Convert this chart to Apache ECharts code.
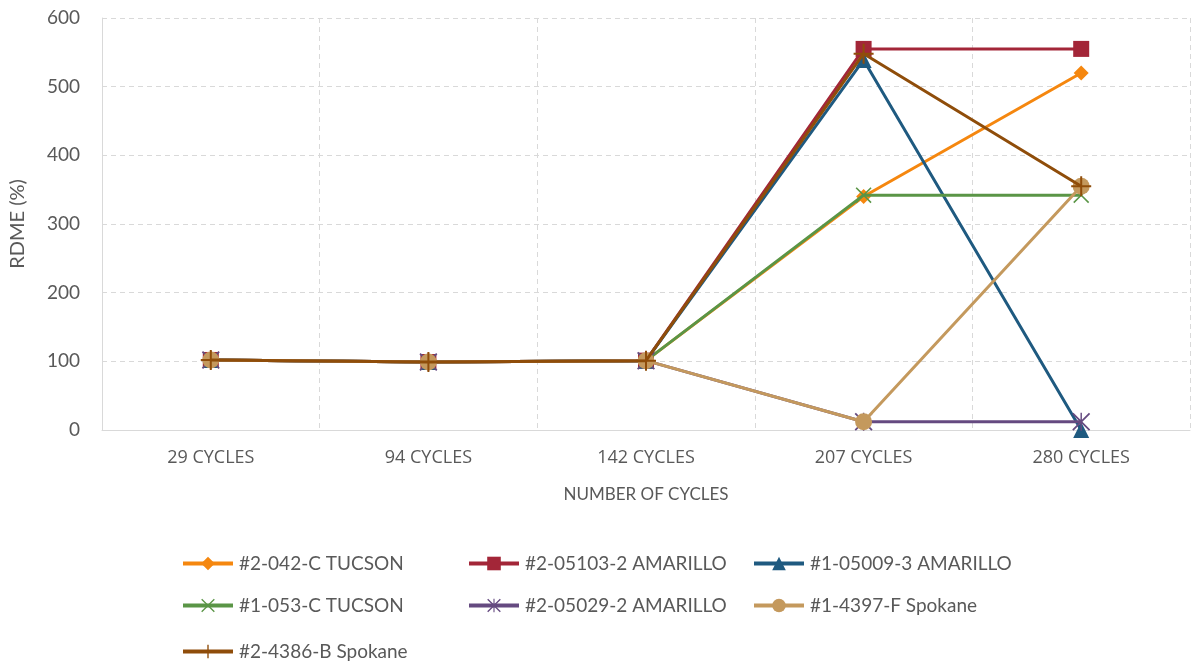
<!DOCTYPE html>
<html>
<head>
<meta charset="utf-8">
<script src="https://cdn.jsdelivr.net/npm/echarts@6/dist/echarts.min.js"></script>
<style>html,body{margin:0;padding:0;background:#fff}#c{width:1193px;height:667px}</style>
</head>
<body>
<div id="c"></div>
<script>
const categories = ['29 CYCLES', '94 CYCLES', '142 CYCLES', '207 CYCLES', '280 CYCLES'];
const yTicks = [0, 100, 200, 300, 400, 500, 600];
const s_tucson042 = [102, 99, 101, 340, 520];
const s_amarillo05103 = [102, 99, 101, 555, 555];
const s_amarillo05009 = [102, 99, 101, 539, 0];
const s_tucson053 = [102, 99, 101, 342, 342];
const s_amarillo05029 = [102, 99, 101, 12, 12];
const s_spokane4397 = [102, 99, 101, 12, 355];
const s_spokane4386 = [102, 99, 101, 548, 355];
const names = ['#2-042-C TUCSON', '#2-05103-2 AMARILLO', '#1-05009-3 AMARILLO', '#1-053-C TUCSON', '#2-05029-2 AMARILLO', '#1-4397-F Spokane', '#2-4386-B Spokane'];

const FONT = 'Lato';
const PLUS = 'path://M4.5,0h1v4.5h4.5v1h-4.5v4.5h-1v-4.5h-4.5v-1h4.5z';
const XS = 'path://M0,0.7L0.7,0L5,4.3L9.3,0L10,0.7L5.7,5L10,9.3L9.3,10L5,5.7L0.7,10L0,9.3L4.3,5Z';
const AST = 'path://M0,0.7L0.7,0L5,4.3L9.3,0L10,0.7L5.7,5L10,9.3L9.3,10L5,5.7L0.7,10L0,9.3L4.3,5Z M4.6,0h0.8v10h-0.8z';

const defs = [
  {data: s_tucson042, color: '#F5870F', symbol: 'diamond', size: 15},
  {data: s_amarillo05103, color: '#A32638', symbol: 'rect', size: 16},
  {data: s_amarillo05009, color: '#1F5A80', symbol: 'triangle', size: 16},
  {data: s_tucson053, color: '#5A9546', symbol: XS, size: 16},
  {data: s_amarillo05029, color: '#654A80', symbol: AST, size: 18},
  {data: s_spokane4397, color: '#C4995D', symbol: 'circle', size: 17},
  {data: s_spokane4386, color: '#8F4D0A', symbol: PLUS, size: 20}
];

const series = defs.map((d, i) => ({
  name: names[i],
  type: 'line',
  data: d.data,
  symbol: d.symbol,
  symbolSize: d.size,
  showAllSymbol: true,
  z: 2 + i,
  lineStyle: {color: d.color, width: 3},
  itemStyle: {color: d.color, opacity: 1},
  emphasis: {disabled: true},
  animation: false
}));

const legendCols = [176, 462, 747];
const legendRows = [549, 591, 637];
const legends = names.map((n, i) => ({
  orient: 'horizontal',
  left: legendCols[i % 3],
  top: legendRows[Math.floor(i / 3)],
  itemWidth: 50,
  itemHeight: 17,
  itemGap: 0,
  lineStyle: {width: 4},
  textStyle: {fontFamily: FONT, fontSize: 19, color: '#595959', padding: [0, 0, 0, 1]},
  data: [n]
}));

const option = {
  backgroundColor: '#ffffff',
  animation: false,
  textStyle: {fontFamily: FONT},
  grid: {left: 101, right: 3, top: 18, bottom: 237, containLabel: false},
  legend: legends,
  xAxis: {
    type: 'category',
    data: categories,
    boundaryGap: true,
    name: 'NUMBER OF CYCLES',
    nameLocation: 'middle',
    nameGap: 56,
    nameTextStyle: {fontFamily: FONT, fontSize: 17, color: '#595959'},
    axisLine: {show: true, lineStyle: {color: '#d9d9d9', width: 1}},
    axisTick: {show: false},
    axisLabel: {fontFamily: 'Open Sans', fontSize: 18, color: '#595959', margin: 19},
    splitLine: {show: true, lineStyle: {color: '#d9d9d9', type: [5, 4], width: 1}}
  },
  yAxis: {
    type: 'value',
    min: yTicks[0],
    max: yTicks[yTicks.length - 1],
    interval: 100,
    name: 'RDME (%)',
    nameLocation: 'middle',
    nameGap: 74,
    nameRotate: 90,
    nameTextStyle: {fontFamily: FONT, fontSize: 20, color: '#595959'},
    axisLine: {show: true, lineStyle: {color: '#d9d9d9', width: 1}},
    axisTick: {show: false},
    axisLabel: {fontFamily: FONT, fontSize: 19, color: '#595959', margin: 22},
    splitLine: {show: true, lineStyle: {color: '#d9d9d9', type: [5, 4], width: 1}}
  },
  series: series
};

const chart = echarts.init(document.getElementById('c'), null, {renderer: 'canvas'});
chart.setOption(option);
</script>
</body>
</html>
